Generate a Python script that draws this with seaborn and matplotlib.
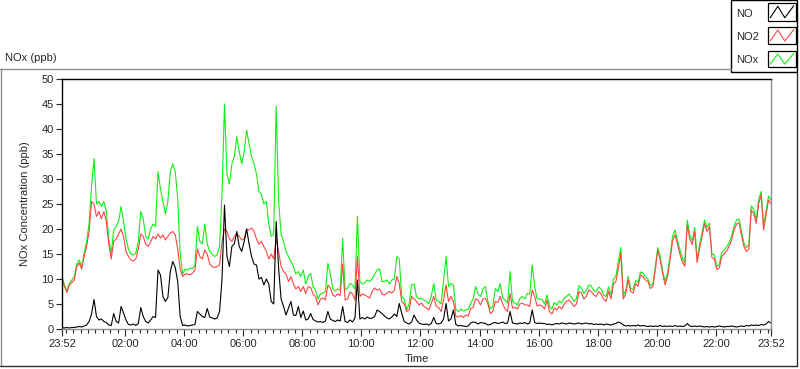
import numpy as np
import pandas as pd
import matplotlib
matplotlib.use("Agg")
import matplotlib.pyplot as plt
import matplotlib.dates as mdates
from matplotlib.lines import Line2D
from matplotlib.patches import Rectangle
from matplotlib.ticker import FixedLocator
import seaborn as sns

# 5-minute readings, one row = one hour, starting at 23:52
NO = [
    0.3, 0.2, 0.3, 0.2, 0.3, 0.3, 0.4, 0.5, 0.4, 0.6, 0.8, 1.5,
    3.0, 5.9, 2.5, 1.8, 2.0, 1.5, 1.3, 0.8, 0.7, 3.1, 1.5, 1.2,
    4.5, 3.2, 1.8, 0.9, 0.8, 1.0, 0.7, 1.1, 4.3, 2.5, 1.5, 1.2,
    1.8, 2.5, 2.3, 11.8, 10.8, 6.5, 5.5, 6.3, 11.5, 13.5, 12.3, 9.5,
    2.5, 0.7, 0.8, 0.6, 0.7, 0.8, 0.9, 3.5, 3.0, 2.5, 2.3, 4.1,
    2.4, 2.2, 2.0, 2.2, 3.5, 10.0, 24.8, 14.5, 12.5, 16.5, 17.0, 19.5,
    16.5, 15.5, 17.5, 20.0, 17.0, 14.5, 13.0, 12.8, 10.0, 10.3, 8.8, 10.0,
    9.0, 5.5, 5.0, 21.5, 12.0, 6.0, 4.5, 2.8, 4.2, 5.5, 2.8, 2.7,
    4.5, 2.3, 3.6, 1.8, 2.0, 3.1, 1.9, 1.6, 1.4, 1.5, 1.3, 1.6,
    3.5, 2.0, 1.7, 1.5, 1.8, 1.6, 4.5, 1.5, 1.3, 1.8, 1.4, 2.2,
    9.8, 2.0, 2.3, 2.0, 2.4, 2.1, 2.2, 2.5, 3.8, 3.5, 3.1, 2.6,
    2.2, 2.0, 2.4, 3.0, 2.5, 5.1, 3.1, 1.5, 1.2, 1.0, 1.4, 2.8,
    1.8, 1.2, 1.0, 0.9, 1.0, 0.8, 1.1, 2.3, 1.1, 1.0, 1.2, 2.0,
    5.1, 1.6, 2.0, 3.8, 0.9, 0.6, 0.7, 0.6, 0.5, 0.6, 1.2, 1.4,
    1.3, 1.0, 1.3, 1.2, 1.1, 0.8, 0.9, 1.2, 1.3, 1.1, 1.2, 1.4,
    1.1, 1.2, 3.5, 1.2, 1.1, 1.0, 1.2, 1.1, 1.3, 1.0, 1.2, 3.8,
    1.3, 1.1, 1.2, 1.1, 1.1, 0.9, 1.0, 0.8, 1.0, 1.1, 1.0, 1.2,
    1.1, 1.0, 1.2, 1.1, 1.0, 1.1, 1.2, 1.0, 1.1, 1.2, 1.0, 1.1,
    0.9, 1.0, 0.9, 1.0, 0.8, 1.0, 0.9, 0.8, 1.0, 1.1, 1.4, 1.2,
    0.8, 0.6, 0.7, 0.6, 0.7, 0.6, 0.8, 0.6, 0.7, 0.6, 0.5, 0.6,
    0.5, 0.6, 0.5, 0.7, 0.5, 0.6, 0.5, 0.6, 0.5, 0.7, 0.5, 0.6,
    0.5, 0.6, 1.1, 0.6, 0.5, 0.6, 0.5, 0.6, 0.5, 0.4, 0.5, 0.4,
    0.5, 0.4, 0.5, 0.6, 0.5, 0.4, 0.5, 0.5, 0.6, 0.5, 0.4, 0.5,
    0.6, 0.5, 0.7, 0.6, 0.8, 0.7, 0.8, 0.7, 0.9, 0.8, 1.0, 1.5,
    1.2,
]

NO2 = [
    10.1, 8.5, 7.3, 8.8, 9.3, 9.8, 12.5, 13.2, 12.0, 14.5, 16.5, 19.5,
    25.5, 25.0, 22.5, 23.5, 22.0, 23.5, 21.5, 17.0, 14.0, 17.5, 18.0, 19.0,
    20.0, 18.5, 15.5, 14.5, 13.8, 13.6, 14.0, 16.0, 19.0, 18.5, 17.0, 16.5,
    17.5, 18.5, 18.0, 19.0, 18.2, 18.8, 17.8, 18.5, 19.2, 19.5, 18.8, 16.0,
    12.0, 10.5, 11.0, 11.0, 10.8, 11.2, 11.8, 16.0, 14.5, 14.0, 15.8, 15.0,
    13.0, 12.5, 12.3, 12.5, 12.8, 17.5, 20.0, 19.5, 18.0, 17.5, 18.5, 19.0,
    18.5, 17.8, 18.0, 20.0, 19.8, 20.2, 19.5, 18.0, 17.0, 17.5, 16.5, 15.5,
    14.0, 15.0, 14.0, 18.0, 15.5, 12.5, 11.5, 11.0, 9.5, 10.5, 9.0, 8.0,
    8.5, 7.5, 8.5, 7.1, 8.5, 8.3, 7.0, 6.5, 4.8, 6.0, 6.2, 5.8,
    8.8, 8.2, 6.8, 6.5, 7.0, 6.7, 13.0, 5.8, 6.0, 7.4, 7.0, 5.8,
    14.5, 6.5, 7.0, 6.8, 6.5, 6.2, 7.5, 8.2, 7.8, 8.0, 7.0, 6.8,
    7.2, 7.5, 7.2, 7.8, 10.5, 9.1, 5.5, 5.0, 3.5, 3.8, 6.5, 6.0,
    5.5, 4.8, 5.2, 4.5, 4.2, 3.8, 5.1, 6.5, 4.5, 4.3, 3.5, 5.8,
    8.8, 5.5, 6.5, 5.5, 2.5, 2.4, 2.7, 2.3, 2.8, 2.6, 4.1, 4.3,
    6.0, 5.8, 4.8, 6.0, 6.1, 5.0, 3.1, 3.5, 5.5, 5.3, 6.5, 5.0,
    4.0, 3.5, 7.1, 4.2, 4.3, 4.0, 5.0, 5.2, 4.8, 4.8, 4.5, 7.8,
    6.5, 4.6, 4.8, 4.6, 4.0, 5.8, 3.5, 3.0, 4.2, 3.8, 4.5, 4.0,
    5.0, 5.5, 5.8, 5.2, 4.5, 5.0, 7.5, 7.2, 6.0, 6.5, 7.8, 7.5,
    6.8, 6.5, 7.5, 7.0, 6.0, 5.5, 7.5, 6.0, 9.0, 9.5, 12.2, 15.1,
    6.0, 7.1, 9.8, 7.5, 7.2, 9.1, 8.5, 10.8, 10.5, 9.8, 9.5, 8.1,
    8.5, 11.8, 15.8, 13.8, 11.1, 8.8, 10.5, 13.8, 17.6, 18.8, 17.0, 15.0,
    13.4, 12.5, 20.8, 18.0, 16.9, 19.5, 13.3, 16.1, 18.5, 21.1, 19.5, 20.5,
    14.3, 14.0, 11.9, 12.2, 14.5, 15.0, 15.6, 16.5, 17.8, 19.8, 21.0, 21.2,
    18.8, 16.5, 15.5, 16.0, 23.8, 23.1, 21.1, 25.1, 26.8, 19.8, 22.8, 25.8,
    25.0,
]

NOX = [
    10.5, 8.8, 7.6, 9.2, 9.8, 10.5, 13.0, 13.8, 12.5, 15.2, 17.5, 21.0,
    28.5, 34.1, 25.0, 25.5, 24.5, 25.5, 23.5, 18.0, 15.0, 19.8, 20.5, 21.5,
    24.5, 21.5, 18.0, 16.0, 15.0, 14.8, 15.2, 17.5, 23.5, 22.0, 18.5, 18.0,
    20.0, 21.0, 20.5, 31.5, 28.0, 25.5, 23.0, 25.5, 31.5, 33.0, 31.5, 26.0,
    15.0, 11.0, 12.0, 11.8, 12.2, 12.0, 12.8, 20.5, 17.5, 17.0, 21.0, 17.0,
    15.5, 15.0, 14.5, 14.8, 16.5, 27.0, 45.0, 31.0, 29.0, 33.0, 34.5, 38.5,
    35.5, 33.0, 35.5, 39.8, 37.0, 34.5, 33.0, 31.0, 27.5, 27.0, 25.0, 25.5,
    21.0, 18.5, 19.0, 44.5, 25.5, 19.0, 17.5, 15.5, 14.5, 13.5, 12.5, 11.0,
    11.5, 10.5, 11.8, 9.0, 10.5, 11.1, 8.5, 7.8, 6.0, 7.0, 7.2, 7.5,
    13.1, 11.0, 8.0, 7.6, 8.0, 7.8, 18.1, 7.8, 8.2, 9.1, 8.8, 8.0,
    22.6, 9.5, 9.0, 9.2, 9.8, 9.5, 10.0, 11.0, 11.8, 12.0, 9.5, 9.5,
    9.8, 9.0, 9.8, 10.0, 14.5, 14.0, 6.5, 6.0, 3.8, 5.0, 8.8, 9.0,
    6.5, 6.0, 6.2, 5.8, 5.5, 5.0, 6.5, 9.1, 5.8, 5.5, 5.0, 9.8,
    14.5, 8.5, 9.1, 8.8, 3.8, 3.5, 4.0, 3.6, 3.8, 3.9, 5.1, 6.0,
    8.5, 7.0, 6.5, 8.0, 8.5, 5.5, 4.1, 4.5, 8.1, 7.5, 9.1, 6.2,
    5.8, 5.2, 11.5, 5.5, 5.2, 4.8, 6.1, 6.5, 6.0, 7.1, 7.0, 12.8,
    8.5, 6.0, 6.0, 5.9, 5.0, 6.8, 4.5, 4.0, 5.3, 4.8, 5.6, 5.2,
    6.2, 6.5, 7.0, 6.3, 5.5, 6.1, 8.7, 8.2, 7.1, 7.7, 8.8, 8.6,
    7.7, 7.5, 8.4, 8.0, 6.8, 6.5, 8.4, 6.8, 10.0, 10.6, 13.6, 16.3,
    6.8, 7.7, 10.5, 8.1, 7.9, 9.7, 9.3, 11.4, 11.2, 10.4, 10.0, 8.7,
    9.0, 12.4, 16.3, 14.5, 11.6, 9.5, 11.3, 14.6, 18.5, 19.8, 17.8, 15.8,
    14.2, 13.2, 21.8, 18.8, 17.6, 20.3, 14.0, 16.9, 19.3, 21.8, 20.3, 21.2,
    15.0, 14.8, 12.5, 12.9, 15.3, 15.8, 16.4, 17.3, 18.6, 20.6, 21.8, 22.0,
    19.5, 17.2, 16.3, 16.8, 24.6, 23.9, 21.9, 25.9, 27.5, 20.6, 23.6, 26.6,
    25.8,
]

SERIES = ["NO", "NO2", "NOx"]
COLORS = {"NO": "#000000", "NO2": "#ff4545", "NOx": "#10f010"}
Y_TICKS = list(range(0, 51, 5))

times = pd.date_range("2023-01-01 23:52", periods=len(NO), freq="5min")
df = pd.DataFrame({"time": times, "NO": NO, "NO2": NO2, "NOx": NOX})
long = df.melt(id_vars="time", var_name="series", value_name="ppb")

sns.set_style("white")
plt.rcParams["font.family"] = ["Liberation Sans", "DejaVu Sans"]
plt.rcParams["font.size"] = 8

W, H = 800, 369
fig = plt.figure(figsize=(W / 100, H / 100), dpi=100)
ax = fig.add_axes([62 / W, 40 / H, 709 / W, 250 / H])

# NOx underneath, NO on top
sns.lineplot(data=long, x="time", y="ppb", hue="series",
             hue_order=["NOx", "NO2", "NO"], palette=COLORS,
             estimator=None, lw=0.8, legend=False, ax=ax)

ax.set_xlim(times[0], times[-1])
ax.set_ylim(0, 50)
ax.set_yticks(Y_TICKS)
ax.tick_params(axis="y", direction="out", length=4, width=0.8, pad=2,
               labelsize=8, left=True)

major = [times[0]] + list(pd.date_range("2023-01-02 02:00", "2023-01-02 22:00", freq="2h")) + [times[-1]]
ax.xaxis.set_major_locator(FixedLocator(mdates.date2num(major)))
ax.xaxis.set_major_formatter(mdates.DateFormatter("%H:%M"))
ax.xaxis.set_minor_locator(mdates.MinuteLocator(byminute=[0, 15, 30, 45]))
ax.tick_params(axis="x", which="major", direction="out", length=5, width=0.8,
               pad=2, labelsize=8, bottom=True)
ax.tick_params(axis="x", which="minor", direction="out", length=3, width=0.8,
               bottom=True)

for side in ["left", "top"]:
    ax.spines[side].set_color("black")
    ax.spines[side].set_linewidth(1.0)
for side in ["right", "bottom"]:
    ax.spines[side].set_color("#8c8c8c")
    ax.spines[side].set_linewidth(1.0)

ax.set_xlabel("Time", fontsize=8)
ax.xaxis.set_label_coords(0.5, -0.1)
ax.set_ylabel("NOx Concentration (ppb)", fontsize=8)
ax.yaxis.set_label_coords(-0.045, 0.5)


def px(x, y):
    return x / W, 1 - y / H


# outer frame of the panel
for (x0, y0), (x1, y1), c in [
    ((0, 69), (731, 69), "#8c8c8c"),
    ((1, 69), (1, 366), "#8c8c8c"),
    ((0, 366), (797, 366), "#303030"),
    ((797, 72), (797, 366), "#303030"),
]:
    a, b = px(x0, y0)
    c2, d = px(x1, y1)
    fig.add_artist(Line2D([a, c2], [b, d], color=c, lw=1.0, transform=fig.transFigure))

fig.text(5 / W, 1 - 58 / H, "NOx (ppb)", fontsize=8, va="center", ha="left")

# legend panel
lx, ly = px(731, 72)
fig.add_artist(Rectangle((lx, ly), 66 / W, 72 / H, transform=fig.transFigure,
                         facecolor="white", edgecolor="black", lw=1.0))
rows = [(14, 3, 21), (37, 27, 44), (60, 51, 67)]
for name, (ty, top, bot) in zip(SERIES, rows):
    fig.text(736 / W, 1 - ty / H, name, fontsize=8, va="center", ha="left")
    sx, sy = px(768, bot)
    sw, sh = 28 / W, (bot - top) / H
    fig.add_artist(Rectangle((sx, sy), sw, sh, transform=fig.transFigure,
                             facecolor="white", edgecolor="black", lw=0.9))
    zx = [sx + f * sw for f in (0.08, 0.35, 0.6, 0.92)]
    zy = [sy + f * sh for f in (0.18, 0.82, 0.18, 0.85)]
    fig.add_artist(Line2D(zx, zy, color=COLORS[name], lw=0.8, transform=fig.transFigure))

fig.savefig("out.png", dpi=100)
